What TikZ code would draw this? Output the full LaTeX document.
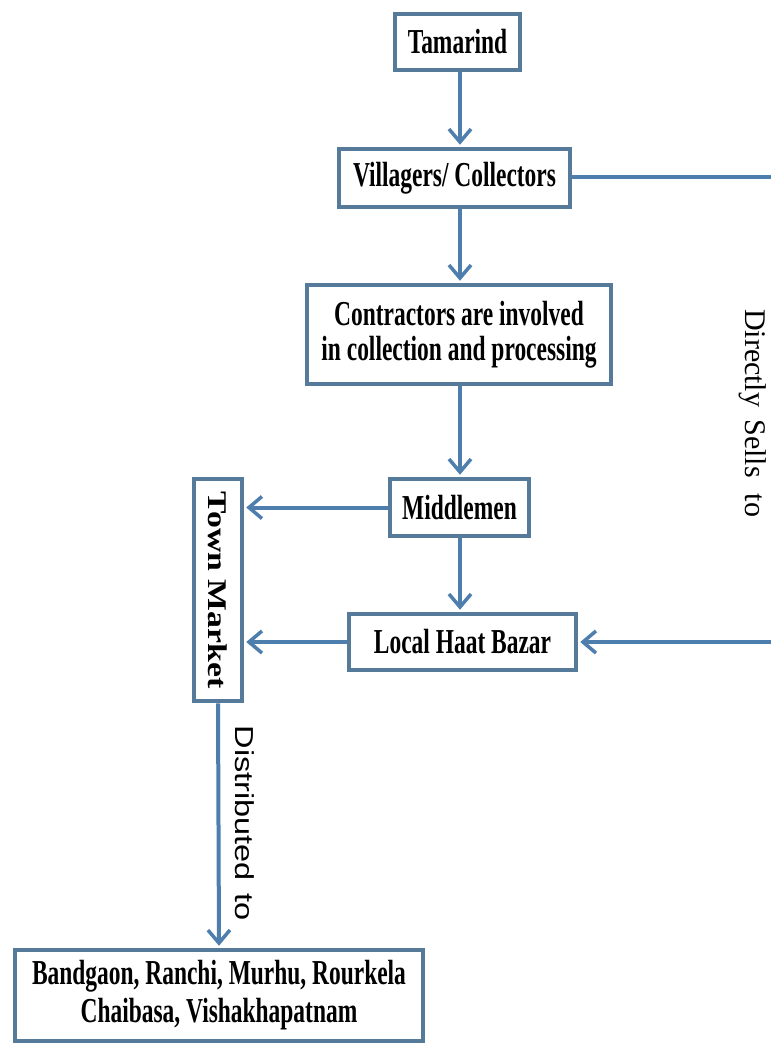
\documentclass[tikz,border=0pt]{standalone}
\usepackage{fontspec}
\setmainfont{Liberation Serif}
\newfontfamily\condfont{Liberation Serif}[FakeStretch=0.67]
\newfontfamily\arialfont{Liberation Sans}
\usetikzlibrary{arrows.meta}
\definecolor{boxcol}{RGB}{86,122,154}
\definecolor{arrcol}{RGB}{78,126,174}
\begin{document}
\begin{tikzpicture}[x=1pt,y=-1pt,
  box/.style={draw=boxcol, line width=4.5pt, fill=white, inner sep=0pt, align=center,
    font=\condfont\bfseries\fontsize{35}{35}\selectfont},
  arr/.style={draw=arrcol, line width=4pt, shorten >=2pt,
    -{Straight Barb[length=13pt,width=22pt,line width=3.5pt]}},
  conn/.style={draw=arrcol, line width=4pt},
  vlabel/.style={rotate=-90, inner sep=0pt}]
\useasboundingbox[fill=white] (0,0) rectangle (771,1050);
\coordinate (cx) at (460,0);
\node[box, minimum width=125pt, minimum height=56pt] (tam) at (457.5,42) {Tamarind};
\node[box, minimum width=231pt, minimum height=58pt] (vil) at (454.5,178) {Villagers/ Collectors};
\node[box, minimum width=304pt, minimum height=99pt] (con) at (459,334.5) {Contractors are involved\\in collection and processing};
\node[box, minimum width=139pt, minimum height=57pt] (mid) at (459.5,507.5) {Middlemen};
\node[box, minimum width=227pt, minimum height=56pt] (lhb) at (462.5,642) {Local Haat Bazar};
\node[box, minimum width=48pt, minimum height=222pt] (tm) at (218,590)
  {\rotatebox{-90}{\rmfamily\bfseries\fontsize{27}{27}\selectfont\scalebox{1.25}[1]{Town Market}}};
\node[box, minimum width=408pt, minimum height=91pt,
  font=\condfont\bfseries\fontsize{35}{38}\selectfont] (bot) at (219,995.5)
  {Bandgaon, Ranchi, Murhu, Rourkela\\Chaibasa, Vishakhapatnam};
\coordinate (vr) at (771,177);
\coordinate (lr) at (771,642);
\draw[arr] (tam.south -| cx) -- (vil.north -| cx);
\draw[arr] (vil.south -| cx) -- (con.north -| cx);
\draw[arr] (con.south -| cx) -- (mid.north -| cx);
\draw[arr] (mid.south -| cx) -- (lhb.north -| cx);
\draw[arr] (mid.west) -- (mid.west -| tm.east);
\draw[arr] (lhb.west) -- (lhb.west -| tm.east);
\draw[arr] (tm.south) -- (bot.north);
\draw[conn] (vil.east |- vr) -- (vr);
\draw[arr] (lr) -- (lhb.east);
\node[vlabel, font=\rmfamily\fontsize{30}{30}\selectfont] (dst) at (753,413)
  {Directly\hspace{12pt}Sells\hspace{16pt}to};
\node[vlabel, font=\arialfont\fontsize{26}{26}\selectfont] (dis) at (245,823)
  {\scalebox{1.25}[1]{Distributed\hspace{10pt}to}};
\end{tikzpicture}
\end{document}
